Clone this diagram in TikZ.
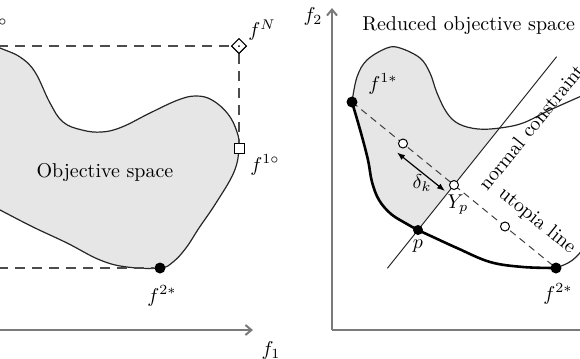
\documentclass[tikz,border=0pt]{standalone}
\usepackage{amsmath,amssymb}
\usepackage{xcolor}
\usepackage{tikz}
\usetikzlibrary{arrows.meta, positioning, shapes.geometric, calc}
\definecolor{regiongray}{HTML}{E6E6E6}
\definecolor{axisgray}{HTML}{7A7A7A}

\begin{document}
\begin{tikzpicture}[x=0.5pt, y=-0.5pt,
      axis/.style={draw=axisgray, line width=1pt, -{Straight Barb[length=3pt, width=5pt]}},
      bound/.style={draw=black!85, line width=0.6pt},
      front/.style={draw=black, line width=1.3pt},
      guide/.style={draw=black!70, line width=0.6pt, dash pattern=on 5pt off 3.5pt},
      utopia/.style={draw=black!75, line width=0.5pt, dash pattern=on 3.5pt off 2.5pt},
      anchorpt/.style={circle, fill=black, inner sep=0pt, minimum size=5.5pt},
      gridpt/.style={circle, draw, fill=white, inner sep=0pt, minimum size=4.5pt, line width=0.5pt},
      nadirpt/.style={diamond, draw, fill=white, inner sep=0pt, minimum size=7.5pt, line width=0.5pt},
      idealpt/.style={rectangle, draw, fill=white, inner sep=0pt, minimum size=5pt, line width=0.5pt},
      lbl/.style={inner sep=1pt}
    ]
      \useasboundingbox (0,0) rectangle (580,359);
      \clip (0,0) rectangle (580,359);

      % left panel: objective space
      \draw[bound, fill=regiongray] plot[smooth, tension=0.65] coordinates {
        (-8,44) (0,48) (20,57) (35,72) (50,103) (63,122) (82,130) (102,132) (122,127)
        (150,113) (178,100) (196,96) (212,100) (228,114) (237,132) (239,148) (234,172)
        (216,203) (199,228) (186,248) (173,262) (160,268) (127,267) (100,260) (67,243)
        (33,227) (0,210) (-8,206)} -- cycle;
      \node[lbl] (objspace) at (105,172) {Objective space};

      \coordinate (leftaxis) at (-2,330);
      \coordinate (f1end) at (253,330);
      \draw[axis] (leftaxis) -- (f1end);
      \node[lbl] (f1lbl) at (271,350) {$f_1$};

      \coordinate (topedge) at (-2,46);
      \coordinate (botedge) at (-2,268);
      \node[nadirpt] (nadir) at (239,46) {};
      \node[idealpt] (ideal1) at (239,148) {};
      \node[anchorpt] (f2a) at (160,268) {};
      \draw[guide] (topedge) -- (nadir);
      \draw[guide] (nadir) -- (ideal1);
      \draw[guide] (botedge) -- (f2a);
      \node[nadirpt] at (nadir) {};
      \fill (nadir.center) circle (0.5pt);
      \node[idealpt] at (ideal1) {};

      \node[lbl] (nadirlbl) at (262,30) {$f^N$};
      \node[lbl] (ideal1lbl) at (265,165) {$f^{1\circ}$};
      \node[lbl] (f2albl) at (162,296) {$f^{2*}$};
      \node[inner sep=0pt, anchor=base east] (ideal2lbl) at (8,33) {$f^{2\circ}$};

      % right panel: reduced objective space
      \coordinate (origin) at (332,330);
      \coordinate (f2end) at (332,8);
      \coordinate (rightedge) at (585,330);
      \draw[axisgray, line width=1pt] (rightedge) -- (origin);
      \draw[axis] (origin) -- (f2end);
      \node[lbl] (f2lbl) at (313,16) {$f_2$};
      \node[lbl, anchor=west] (redlbl) at (360,26) {Reduced objective space};

      \coordinate (f1s) at (352,102);
      \coordinate (f2s) at (556,268);
      \coordinate (p) at (418,230);
      \coordinate (Yp) at ($(f1s)!0.5!(f2s)$);

      \fill[regiongray] plot[smooth, tension=0.6] coordinates {
        (352,102) (357,77) (367,60) (387,48) (400,48) (420,58) (430,73) (437,93)
        (447,113) (459,124) (478,129) (500,128)}
        -- (418,230) -- plot[smooth, tension=0.6] coordinates {
        (418,230) (407,224) (391,214) (379,200) (372,182) (368,160) (361,133) (352,102)}
        -- cycle;
      \draw[bound] plot[smooth, tension=0.6] coordinates {
        (352,102) (357,77) (367,60) (387,48) (400,48) (420,58) (430,73) (437,93)
        (447,113) (459,124) (478,129) (500,128) (523,123) (550,110) (586,94)};
      \draw[front] plot[smooth, tension=0.6] coordinates {
        (352,102) (361,133) (368,160) (372,182) (379,200) (391,214) (407,224) (418,230)
        (433,237) (457,248) (490,262) (523,267) (556,268)};
      \draw[bound] plot[smooth, tension=0.6] coordinates {
        (556,268) (568,263) (576,257) (586,246)};

      \draw[bound, line width=0.5pt] ($(p)!-0.85!(Yp)$) -- ($(p)!3.85!(Yp)$);
      \draw[utopia] (f1s) -- (f2s);

      \node[gridpt] (u1) at ($(f1s)!0.25!(f2s)$) {};
      \node[gridpt] (u2) at (Yp) {};
      \node[gridpt] (u3) at ($(f1s)!0.75!(f2s)$) {};
      \node[anchorpt] (f1dot) at (f1s) {};
      \node[anchorpt] (f2dot) at (f2s) {};
      \node[anchorpt, minimum size=5pt] (pdot) at (p) {};

      \draw[{Latex[length=4pt, width=3pt]}-{Latex[length=4pt, width=3pt]}, line width=0.6pt]
        ([shift={(-6,9)}]u1.center) -- ([shift={(-9,6)}]u2.center);

      \node[lbl] (f1slbl) at (383,84) {$f^{1*}$};
      \node[lbl] (dlbl) at (422,183) {$\delta_k$};
      \node[lbl] (Yplbl) at (458,205) {$Y_p$};
      \node[lbl] (plbl) at (418,246) {$p$};
      \node[lbl] (f2slbl) at (558,294) {$f^{2*}$};
      \node[lbl, rotate=51] (nclbl) at (531,127) {normal constraint};
      \node[lbl, rotate=-39] (ullbl) at (537,221) {utopia line};
    \end{tikzpicture}
\end{document}
